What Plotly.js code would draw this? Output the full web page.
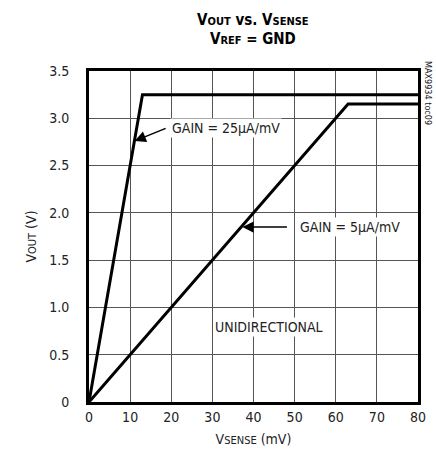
<!DOCTYPE html>
<html>
<head>
<meta charset="utf-8">
<script src="https://cdn.plot.ly/plotly-3.0.1.min.js"></script>
<style>html,body{margin:0;padding:0;background:#fff;}</style>
</head>
<body>
<div id="chart" style="width:436px;height:461px;"></div>
<script>
// Data
var vsenseGain25 = [0, 13, 80];
var voutGain25 = [0, 3.25, 3.25];
var vsenseGain5 = [0, 63, 80];
var voutGain5 = [0, 3.15, 3.15];
var xTickVals = [0, 10, 20, 30, 40, 50, 60, 70, 80];
var xTickText = ['0', '10', '20', '30', '40', '50', '60', '70', '80'];
var yTickVals = [0, 0.5, 1.0, 1.5, 2.0, 2.5, 3.0, 3.5];
var yTickText = ['0', '0.5', '1.0', '1.5', '2.0', '2.5', '3.0', '3.5'];

var FONT = 'Liberation Sans Narrow, LiberationSansNarrow, Arial Narrow, DejaVu Sans Condensed, sans-serif';
var sc = function (t, s) { return "<span style='font-size:" + s + "px'>" + t + "</span>"; };

var traces = [
  {x: vsenseGain25, y: voutGain25, mode: 'lines', line: {color: '#000', width: 3}, hoverinfo: 'skip'},
  {x: vsenseGain5, y: voutGain5, mode: 'lines', line: {color: '#000', width: 3}, hoverinfo: 'skip'}
];

var layout = {
  width: 436, height: 461,
  margin: {l: 89, r: 18, t: 71, b: 59},
  paper_bgcolor: '#fff', plot_bgcolor: '#fff',
  showlegend: false,
  font: {family: FONT, size: 14, color: '#222'},
  title: {
    text: '<b>V' + sc('OUT', 11) + ' vs. V' + sc('SENSE', 11) + '<br>V' + sc('REF', 11) + ' = GND</b>',
    font: {family: FONT, size: 15, color: '#000'},
    x: 0.58, xanchor: 'center', y: 0.946, yanchor: 'middle'
  },
  xaxis: {
    range: [0, 80], tickvals: xTickVals, ticktext: xTickText,
    showgrid: true, gridcolor: '#555', gridwidth: 1,
    showline: true, linecolor: '#000', linewidth: 3, mirror: true,
    ticks: '', zeroline: false, fixedrange: true,
    tickfont: {family: FONT, size: 14, color: '#222'},
    title: {text: 'V' + sc('SENSE', 11) + ' (mV)', font: {family: FONT, size: 14, color: '#222'}, standoff: 11}
  },
  yaxis: {
    range: [0, 3.5], tickvals: yTickVals, ticktext: yTickText,
    showgrid: true, gridcolor: '#555', gridwidth: 1,
    showline: true, linecolor: '#000', linewidth: 3, mirror: true,
    ticks: 'outside', ticklen: 14, tickcolor: 'rgba(0,0,0,0)', zeroline: false, fixedrange: true,
    tickfont: {family: FONT, size: 14, color: '#222'},
    title: {text: 'V' + sc('OUT', 11) + ' (V)', font: {family: FONT, size: 14, color: '#222'}, standoff: 10}
  },
  annotations: [
    {x: 33.3, y: 2.9, xref: 'x', yref: 'y', text: 'GAIN = 25µA/mV', showarrow: false,
     bgcolor: '#fff', font: {family: FONT, size: 14, color: '#222'}},
    {x: 11.1, y: 2.76, ax: 19.0, ay: 2.9, xref: 'x', yref: 'y', axref: 'x', ayref: 'y',
     text: '', showarrow: true, arrowhead: 2, arrowsize: 1.5, arrowwidth: 1.5, arrowcolor: '#000'},
    {x: 63.4, y: 1.85, xref: 'x', yref: 'y', text: 'GAIN = 5µA/mV', showarrow: false,
     bgcolor: '#fff', font: {family: FONT, size: 14, color: '#222'}},
    {x: 37.3, y: 1.85, ax: 48.5, ay: 1.85, xref: 'x', yref: 'y', axref: 'x', ayref: 'y',
     text: '', showarrow: true, arrowhead: 2, arrowsize: 1.5, arrowwidth: 1.5, arrowcolor: '#000'},
    {x: 43.8, y: 0.79, xref: 'x', yref: 'y', text: 'UNIDIRECTIONAL', showarrow: false,
     bgcolor: '#fff', font: {family: FONT, size: 14, color: '#222'}},
    {x: 1, y: 1, xref: 'paper', yref: 'paper', xanchor: 'left', yanchor: 'top', xshift: 3, yshift: 12,
     text: 'MAX9934 toc09', textangle: 90, showarrow: false,
     font: {family: FONT, size: 9, color: '#222'}}
  ]
};

Plotly.newPlot('chart', traces, layout, {displayModeBar: false, staticPlot: true});
</script>
</body>
</html>
